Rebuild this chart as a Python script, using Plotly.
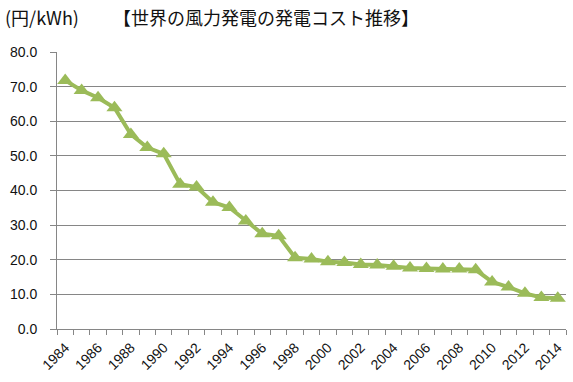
import plotly.graph_objects as go

years = list(range(1984, 2015))
cost = [71.8, 68.9, 66.8, 63.9, 56.2, 52.4, 50.6, 41.8, 41.0, 36.6, 35.1,
        31.2, 27.5, 26.9, 20.6, 20.2, 19.4, 19.2, 18.6, 18.5, 18.1, 17.6,
        17.5, 17.3, 17.3, 17.1, 13.6, 12.1, 10.3, 9.1, 8.9]
tick_years = list(range(1984, 2015, 2))
boundaries = [y - 0.5 for y in range(1984, 2016)]

title_text = "【世界の風力発電の発電コスト推移】"
unit_text = "(円/kWh)"

fig = go.Figure()
fig.add_trace(go.Scatter(
    x=years, y=cost, mode="lines+markers",
    line=dict(color="#9BBB59", width=4),
    marker=dict(symbol="triangle-up", size=14, color="#9BBB59"),
    showlegend=False, hoverinfo="skip",
))

axis_font = dict(family="Liberation Sans, Arial, sans-serif", size=14, color="#111111")
fig.update_layout(
    width=573, height=382,
    margin=dict(l=57, r=7, t=52, b=53),
    paper_bgcolor="white", plot_bgcolor="white",
    xaxis=dict(
        range=[1983.5, 2014.5],
        tickvals=tick_years, ticktext=[str(y) for y in tick_years],
        tickangle=-45, ticks="", showgrid=False,
        showline=True, linecolor="#868686", linewidth=1,
        tickfont=axis_font, zeroline=False, automargin=False,
        ticklabelstandoff=4,
        minor=dict(tickvals=boundaries, ticks="outside", ticklen=5,
                   tickcolor="#868686", showgrid=False),
    ),
    yaxis=dict(
        range=[0, 80], dtick=10, tickformat=".1f",
        showgrid=True, gridcolor="#868686", gridwidth=1,
        showline=True, linecolor="#868686", linewidth=1,
        ticks="outside", ticklen=6, tickcolor="#868686",
        tickfont=axis_font, zeroline=False, automargin=False,
        ticklabelstandoff=10,
    ),
    annotations=[
        dict(text=title_text, xref="paper", yref="paper", x=0.106, y=1.0,
             yshift=35, xanchor="left", yanchor="middle", showarrow=False,
             font=dict(family="Noto Sans CJK JP", size=18, color="#111111")),
        dict(text=unit_text, xref="paper", yref="paper", x=-0.106, y=1.0,
             yshift=35, xanchor="left", yanchor="middle", showarrow=False,
             font=dict(family="Noto Sans CJK JP", size=18, color="#111111")),
    ],
)

fig.write_html("out.html", config={"displayModeBar": False},
               post_script="document.body.style.margin='0';document.body.style.padding='0';")
